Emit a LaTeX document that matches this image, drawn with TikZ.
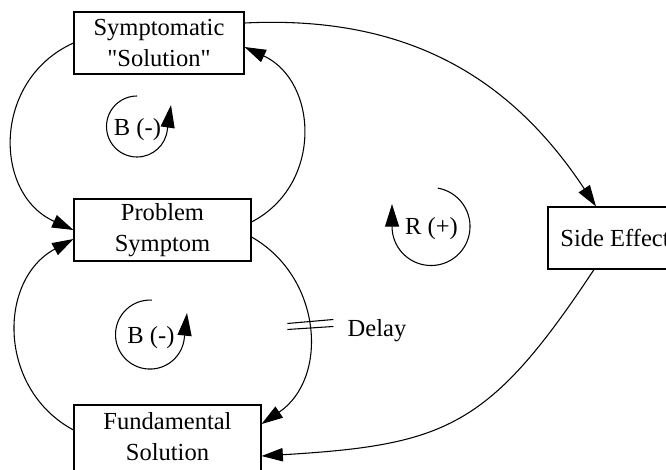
\documentclass[tikz,border=0pt]{standalone}
\usepackage{fontspec}
\setmainfont{Liberation Serif}[Ligatures=TeXOff]
\usetikzlibrary{arrows.meta}
\begin{document}
\begin{tikzpicture}[x=0.75pt,y=0.75pt,
  every node/.style={font=\fontsize{18.4}{22.9}\selectfont},
  box/.style={draw, line width=0.8pt, inner sep=0pt, align=center},
  link/.style={line width=0.8pt, -{Triangle[length=16pt,width=10pt]}},
  loopsym/.style={line width=0.8pt, -{Triangle[length=17pt,width=10.5pt]}},
  plain/.style={line width=0.8pt}]
\useasboundingbox (0,0) rectangle (666,-469);
\clip (0,0) rectangle (666,-469);

% boxes
\node[box, minimum width=127.5pt, minimum height=46.5pt] (sym) at (159,-43) {Symptomatic\\"Solution"};
\node[box, minimum width=132.75pt, minimum height=46.5pt] (prob) at (162.5,-230) {Problem\\Symptom};
\node[box, minimum width=140.25pt, minimum height=52.5pt] (fund) at (167.5,-440) {};
\node[align=center] (fundtxt) at (167.5,-436.7) {Fundamental\\Solution};
\node[box, minimum width=100.5pt, minimum height=46.5pt] (side) at (615,-238) {Side Effect};

% connectors
\draw[link] (sym.west) .. controls +(-80.9,-36.3) and +(-80.9,36.3) .. (prob.west);
\draw[link] ([shift={(0,8)}]prob.east) .. controls +(71.8,37.4) and +(73.5,-34.1) .. ([shift={(0,-4)}]sym.east);
\draw[link] ([shift={(0,10)}]fund.west) .. controls +(-75.9,40.9) and +(-75.9,-40.9) .. ([shift={(0,-9)}]prob.west);
\draw[link] ([shift={(0,-7)}]prob.east) .. controls +(70.8,-40.1) and +(67.5,45.5) .. ([shift={(0,16)}]fund.east) coordinate[pos=0.5] (dl);
\draw[link] ([shift={(0,20)}]sym.east) .. controls +(168,8.4) and +(-82.5,124.5) .. ([shift={(-19,0)}]side.north);
\draw[link] ([shift={(-21,0)}]side.south) .. controls +(-104.5,-157.7) and +(185,11.1) .. ([shift={(0,-16)}]fund.east);

% delay marks
\draw[plain] ([shift={(-21,5)}]dl) -- ([shift={(25,9)}]dl);
\draw[plain] ([shift={(-21,-1)}]dl) -- ([shift={(25,2)}]dl);
\node[anchor=base west] (delay) at (343,-336) {Delay};

% loop symbols
\draw[loopsym] (137,-96) arc[start angle=90, end angle=355, radius=30.5] -- (171,-105);
\node[anchor=base] (b1) at (137.5,-135) {B (-)};
\draw[loopsym] (151.8,-300.1) arc[start angle=87, end angle=355, radius=34.5] -- (187,-313);
\node[anchor=base] (b2) at (151,-343) {B (-)};
\draw[loopsym] (437.8,-188.1) arc[start angle=80, end angle=-178, radius=39] -- (392,-204);
\node[anchor=base] (r1) at (431.5,-234) {R (+)};
\end{tikzpicture}
\end{document}
